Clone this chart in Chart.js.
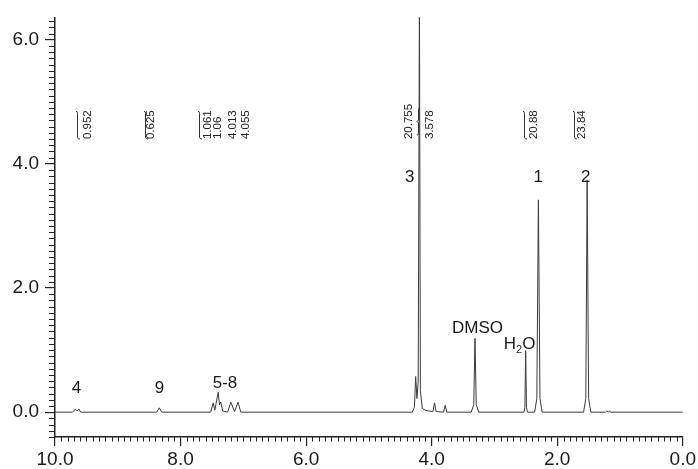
<!DOCTYPE html>
<html><head><meta charset="utf-8">
<script src="https://cdn.jsdelivr.net/npm/chart.js@4"></script>
<style>html,body{margin:0;padding:0;background:#fff;}</style>
</head><body>
<canvas id="c" width="698" height="469"></canvas>
<script>
// ---- spectrum (chemical shift in ppm, intensity) ----
const shiftPpm = [
  10.00, 9.72, 9.675, 9.65, 9.62, 9.59,
  8.38, 8.34, 8.30,
  7.52, 7.48, 7.455, 7.40, 7.38, 7.36, 7.33, 7.25, 7.20, 7.14, 7.085, 7.04,
  4.31, 4.275, 4.255, 4.235, 4.215, 4.195, 4.18, 4.15, 4.10, 4.05, 3.98, 3.955, 3.93, 3.81, 3.785, 3.76,
  3.37, 3.33, 3.31, 3.29, 3.25,
  2.53, 2.515, 2.503, 2.49, 2.475,
  2.36, 2.325, 2.30, 2.275, 2.24,
  1.58, 1.545, 1.523, 1.50, 1.465,
  1.23, 1.21, 1.19, 1.165, 1.15, 0.00
];
const intensity = [
  0, 0, 0.05, 0.02, 0.05, 0,
  0, 0.07, 0,
  0, 0.15, 0.03, 0.32, 0.12, 0.165, 0.02, 0, 0.16, 0.01, 0.16, 0,
  0, 0.08, 0.575, 0.22, 0.5, 6.6, 0.35, 0.06, 0.03, 0.02, 0.01, 0.15, 0.01, 0, 0.11, 0,
  0, 0.12, 1.19, 0.12, 0,
  0, 0.08, 0.99, 0.08, 0,
  0, 0.22, 3.42, 0.22, 0,
  0, 0.22, 3.74, 0.22, 0,
  0, 0.02, 0, 0.02, 0, 0
];
// ---- axis ticks ----
const xTickValues = [10, 8, 6, 4, 2, 0];
const yTickValues = [0, 2, 4, 6];
// ---- peak assignments ----
const peakLabels = ['4', '9', '5-8', '3', 'DMSO', 'H2O', '1', '2'];
const peakLabelPpm = [9.658, 8.337, 7.292, 4.35, 3.27, 2.60, 2.302, 1.548];
const peakLabelY = [0.384, 0.384, 0.468, 3.79, 1.343, 1.10, 3.79, 3.79];
// ---- integrals ----
const integralLabels = [['0.952'], ['0.625'], ['1.061', '1.06', '4.013', '4.055'], ['20.755', '3.578'], ['20.88'], ['23.84']];
const integralTextPpm = [[9.483], [8.469], [7.569, 7.41, 7.171, 6.958], [4.371, 4.025], [2.371], [1.602]];
const integralBracketPpm = [9.642, 8.56, 7.712, 4.216, 2.53, 1.735];
const integralBracketType = ['hook', 'hook', 'hook', 'brace', 'hook', 'hook'];
const integralBaseY = 4.40;

const FONT = "'Liberation Sans', Arial, sans-serif";
const INK = '#1a1a1a';

const annot = {
  id: 'annot',
  afterDraw(chart) {
    const ctx = chart.ctx, xs = chart.scales.x, ys = chart.scales.y, ca = chart.chartArea;
    ctx.save();
    // minor ticks
    ctx.strokeStyle = '#222'; ctx.lineWidth = 1;
    ctx.beginPath();
    for (let i = 0; i <= 100; i++) {
      if (i % 20 === 0) continue;
      const px = Math.round(xs.getPixelForValue(i / 10)) + 0.5;
      ctx.moveTo(px, ca.bottom); ctx.lineTo(px, ca.bottom + 4.5);
    }
    for (let i = -4; i <= 63; i++) {
      if (i % 20 === 0) continue;
      const py = Math.round(ys.getPixelForValue(i / 10)) + 0.5;
      ctx.moveTo(ca.left, py); ctx.lineTo(ca.left - 6, py);
    }
    ctx.stroke();

    // peak labels
    ctx.fillStyle = INK; ctx.textAlign = 'center'; ctx.textBaseline = 'middle';
    peakLabels.forEach((t, i) => {
      const px = xs.getPixelForValue(peakLabelPpm[i]), py = ys.getPixelForValue(peakLabelY[i]);
      if (t === 'H2O') {
        ctx.font = '17px ' + FONT;
        const wH = ctx.measureText('H').width, wO = ctx.measureText('O').width;
        ctx.font = '11px ' + FONT;
        const w2 = ctx.measureText('2').width;
        const tot = wH + w2 + wO;
        let x0 = px - tot / 2;
        ctx.textAlign = 'left';
        ctx.font = '17px ' + FONT; ctx.fillText('H', x0, py);
        ctx.font = '11px ' + FONT; ctx.fillText('2', x0 + wH, py + 6);
        ctx.font = '17px ' + FONT; ctx.fillText('O', x0 + wH + w2, py);
        ctx.textAlign = 'center';
      } else {
        ctx.font = '17px ' + FONT;
        ctx.fillText(t, px, py);
      }
    });

    // integrals
    const yb = ys.getPixelForValue(integralBaseY);
    ctx.font = '11.5px ' + FONT; ctx.fillStyle = '#222';
    integralLabels.forEach((grp, g) => {
      let maxW = 0;
      grp.forEach((t, k) => {
        const px = xs.getPixelForValue(integralTextPpm[g][k]);
        const w = ctx.measureText(t).width; if (k === 0) maxW = w;
        ctx.save(); ctx.translate(px, yb); ctx.rotate(-Math.PI / 2);
        ctx.textAlign = 'left'; ctx.textBaseline = 'middle';
        ctx.fillText(t, 0, 0); ctx.restore();
      });
      const bx = Math.round(xs.getPixelForValue(integralBracketPpm[g])) + 0.5;
      ctx.strokeStyle = '#333'; ctx.lineWidth = 1;
      ctx.beginPath();
      if (integralBracketType[g] === 'hook') {
        const top = yb - maxW + 1;
        ctx.moveTo(bx - 1.5, top); ctx.quadraticCurveTo(bx, top, bx, top + 2);
        ctx.lineTo(bx, yb - 2); ctx.quadraticCurveTo(bx, yb, bx + 2.5, yb);
      } else {
        const top = yb - 31, bot = yb - 4, mid = (top + bot) / 2;
        ctx.moveTo(bx + 1.5, top); ctx.quadraticCurveTo(bx, top, bx, top + 2);
        ctx.lineTo(bx, mid - 1.5); ctx.lineTo(bx - 1.5, mid); ctx.lineTo(bx, mid + 1.5);
        ctx.lineTo(bx, bot - 2); ctx.quadraticCurveTo(bx, bot, bx - 1.5, bot);
      }
      ctx.stroke();
    });
    ctx.restore();
  }
};

new Chart(document.getElementById('c'), {
  type: 'line',
  data: {
    datasets: [{
      data: shiftPpm.map((x, i) => ({ x: x, y: intensity[i] })),
      borderColor: '#3a3a3a', borderWidth: 1, pointRadius: 0, tension: 0, fill: false
    }]
  },
  options: {
    responsive: false, animation: false,
    layout: { padding: { top: 14, right: 14, left: 0, bottom: 0 } },
    plugins: { legend: { display: false }, tooltip: { enabled: false } },
    scales: {
      x: {
        type: 'linear', reverse: true, min: 0, max: 10,
        afterBuildTicks: s => { s.ticks = xTickValues.map(v => ({ value: v })); },
        afterFit: s => { s.height = 32; },
        grid: { display: true, drawOnChartArea: false, drawTicks: true, tickLength: 9, color: '#222', lineWidth: 1.2 },
        border: { display: true, color: '#222', width: 1.5 },
        ticks: { color: INK, font: { family: FONT, size: 19 }, padding: 2, maxRotation: 0, autoSkip: false,
                 callback: v => Number(v).toFixed(1) }
      },
      y: {
        type: 'linear', min: -0.40, max: 6.36,
        afterBuildTicks: s => { s.ticks = yTickValues.map(v => ({ value: v })); },
        afterFit: s => { s.width = 55; },
        grid: { display: true, drawOnChartArea: false, drawTicks: true, tickLength: 10, color: '#222', lineWidth: 1.2 },
        border: { display: true, color: '#222', width: 1.5 },
        ticks: { color: INK, font: { family: FONT, size: 19 }, padding: 6,
                 callback: v => Number(v).toFixed(1) }
      }
    }
  },
  plugins: [annot]
});
</script>
</body></html>
